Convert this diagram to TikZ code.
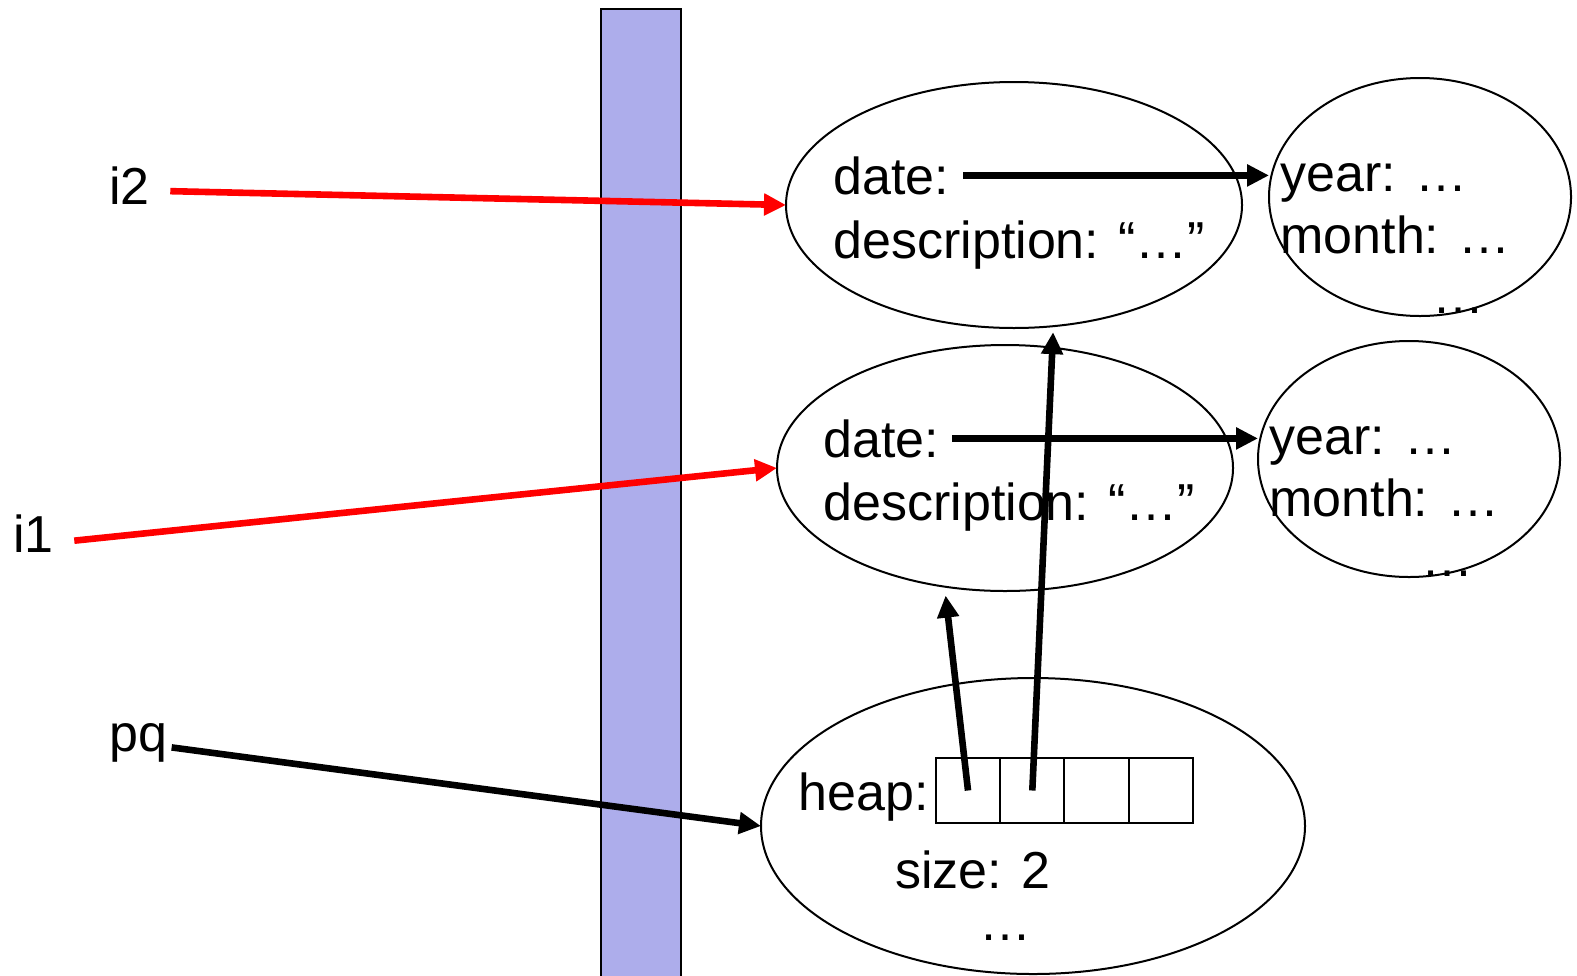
\documentclass[tikz,border=0pt]{standalone}
\usepackage{fontspec}
\setmainfont{Liberation Sans}
\usetikzlibrary{
    arrows.meta,
    shapes.geometric,
    positioning
}
\definecolor{stackblue}{RGB}{173,173,235}
\tikzset{
    obj/.style={draw, ellipse, inner sep=0pt, outer sep=0pt, line width=1pt},
    lbl/.style={anchor=base west, inner sep=0pt, font=\fontsize{26}{32}\selectfont},
    ptr/.style={line width=3.3pt, -{Triangle[length=11pt, width=10.5pt]}},
    redptr/.style={ptr, red},
    cell/.style={draw, rectangle, minimum width=32.15pt, minimum height=32.5pt,
        inner sep=0pt, outer sep=0pt, line width=1pt}
}

\begin{document}
\begin{tikzpicture}[x=0.5pt, y=-0.5pt]
                        \useasboundingbox (0, 0) rectangle (1577, 975);

                        \draw[fill=stackblue, line width=1pt] (601, 9) rectangle (681, 977);

                        \node[obj, minimum width=228pt, minimum height=123pt] (item2) at (1014, 205) {};
                        \node[obj, minimum width=228pt, minimum height=123pt] (item1) at (1005, 468) {};
                        \node[obj, minimum width=151pt, minimum height=119pt] (date2) at (1420, 197) {};
                        \node[obj, minimum width=151pt, minimum height=118pt] (date1) at (1409, 459) {};
                        \node[obj, minimum width=272pt, minimum height=148pt] (queue) at (1033, 826) {};

                        \node[lbl] (i2) at (109, 204) {i2};
                        \node[lbl] (i1) at (13, 552) {i1};
                        \node[lbl] (pq) at (109, 751) {pq};

                        \node[lbl] (datekey2) at (833, 194) {date:};
                        \node[lbl] (desc2) at (833, 258) {description: “…”};
                        \node[lbl] (datekey1) at (823, 457) {date:};
                        \node[lbl] (desc1) at (823, 520) {description: “…”};

                        \node[lbl] (year2) at (1280, 191) {year: …};
                        \node[lbl] (month2) at (1280, 253) {month: …};
                        \node[lbl] (rest2) at (1432, 313) {…};
                        \node[lbl] (year1) at (1269, 454) {year: …};
                        \node[lbl] (month1) at (1269, 516) {month: …};
                        \node[lbl] (rest1) at (1421, 576) {…};

                        \node[cell] (c1) at (968, 790.5) {};
                        \node[cell, right=0pt of c1] (c2) {};
                        \node[cell, right=0pt of c2] (c3) {};
                        \node[cell, right=0pt of c3] (c4) {};
                        \node[lbl] (heap) at (798, 810) {heap:};
                        \node[lbl] (size) at (895, 888) {size: 2};
                        \node[lbl] (rest) at (979, 940) {…};

                        \draw[redptr] ([xshift=10pt, yshift=-3pt]i2.east) -- (item2.west);
                        \draw[redptr] ([xshift=10pt, yshift=-3.75pt]i1.east) -- (item1.west);
                        \draw[ptr] ([xshift=2pt, yshift=-2.5pt]pq.east) -- (queue.west);

                        \draw[ptr] ([xshift=7pt]datekey2.east) -- (datekey2.east -| date2.west);
                        \draw[ptr] ([xshift=6.5pt]datekey1.east) -- (datekey1.east -| date1.west);

                        \draw[ptr, shorten >=4.5pt] (c1.center) -- (item1.243);
                        \draw[ptr, shorten >=3pt] (c2.center) -- (item2.288);
                    \end{tikzpicture}
\end{document}
